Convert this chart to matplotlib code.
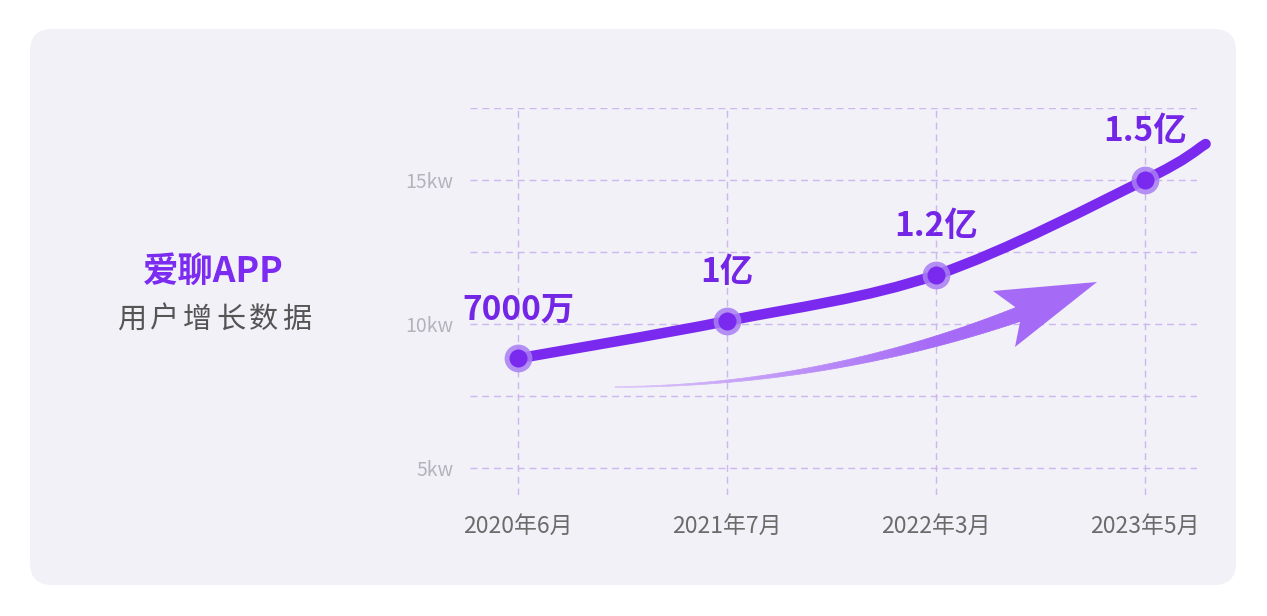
import numpy as np
import matplotlib.pyplot as plt
from matplotlib.path import Path
from matplotlib.patches import PathPatch, FancyBboxPatch, Polygon
from matplotlib.collections import PolyCollection
from matplotlib.transforms import Affine2D, IdentityTransform
from matplotlib.colors import to_rgb

plt.rcParams['font.family'] = ['Noto Sans CJK SC', 'DejaVu Sans']

months = ['2020年6月', '2021年7月', '2022年3月', '2023年5月']
users = [8.8, 10.1, 11.7, 15.0]
user_labels = ['7000万', '1亿', '1.2亿', '1.5亿']
trend_end = (3.29, 16.25)   # line runs on a bit past the last point
y_ticks = [5, 10, 15]
y_tick_labels = ['5kw', '10kw', '15kw']
y_minor = [7.5, 12.5, 17.5]

PURPLE = '#7a2aee'
HALO = '#a97ef3'
LABEL = '#7426e6'
GRID = '#cdb8ee'
PANEL = '#f2f1f8'

W, H = 1267, 616
fig = plt.figure(figsize=(W / 100, H / 100), dpi=100)
fig.patch.set_facecolor('white')
px = Affine2D().scale(1, -1).translate(0, H)   # image pixels (y down) -> display

# rounded background card
fig.add_artist(FancyBboxPatch((30, 31), 1206, 556, boxstyle='round,pad=0,rounding_size=22',
                              transform=IdentityTransform(), fc=PANEL, ec='none', zorder=0))

# title block
fig.text(213, 272, '爱聊APP', transform=px, ha='center', va='center',
         fontsize=25.5, fontweight='heavy', color='#7b2cf0')
for i, ch in enumerate('用户增长数据'):
    fig.text(131.5 + 33 * i, 320, ch, transform=px, ha='center', va='center',
             fontsize=21, color='#555555')

# chart area
ax = fig.add_axes([470 / W, (H - 495) / H, (1197 - 470) / W, (495 - 108) / H])
ax.set_xlim(-0.2297, 3.2488)
ax.set_ylim(4.056, 17.5)
ax.patch.set_alpha(0)
for s in ax.spines.values():
    s.set_visible(False)

ax.set_xticks(range(len(months)))
ax.set_xticklabels(months, fontsize=16.5, color='#6b6b6b')
ax.set_yticks(y_ticks)
ax.set_yticklabels(y_tick_labels, fontsize=14, color='#b5b2bd')
ax.set_yticks(y_minor, minor=True)
ax.tick_params(which='both', length=0)
ax.tick_params(axis='y', pad=12)
ax.tick_params(axis='x', pad=14)
ax.grid(True, which='both', color=GRID, ls=(0, (5, 3.5)), lw=1.0)
ax.set_axisbelow(True)

# smooth line (catmull-rom through the points)
pts = np.column_stack([list(range(len(users))) + [trend_end[0]], users + [trend_end[1]]])
verts = [pts[0]]
codes = [Path.MOVETO]
for i in range(len(pts) - 1):
    p0 = pts[max(i - 1, 0)]
    p1 = pts[i]
    p2 = pts[i + 1]
    p3 = pts[min(i + 2, len(pts) - 1)]
    verts += [p1 + (p2 - p0) / 6, p2 - (p3 - p1) / 6, p2]
    codes += [Path.CURVE4] * 3
ax.add_patch(PathPatch(Path(verts, codes), fill=False, ec=PURPLE, lw=7.5,
                       capstyle='round', joinstyle='round', clip_on=False, zorder=3))

ax.scatter(range(len(users)), users, s=20 ** 2, color=HALO, alpha=0.85,
           linewidths=0, zorder=4, clip_on=False)
ax.scatter(range(len(users)), users, s=13 ** 2, color=PURPLE,
           linewidths=0, zorder=5, clip_on=False)

for i, (v, lab) in enumerate(zip(users, user_labels)):
    ax.annotate(lab, (i, v), xytext=(0, 35), textcoords='offset points',
                ha='center', va='center', fontsize=24, fontweight='heavy', color=LABEL)

# decorative gradient arrow
t = np.linspace(0, 1, 80)
p_tail = np.array([615, 387.0])
p_ctrl = np.array([825, 386.0])
p_end = np.array([1022, 313.0])
curve = ((1 - t) ** 2)[:, None] * p_tail + (2 * t * (1 - t))[:, None] * p_ctrl + (t ** 2)[:, None] * p_end
deriv = (2 * (1 - t))[:, None] * (p_ctrl - p_tail) + (2 * t)[:, None] * (p_end - p_ctrl)
nrm = np.column_stack([-deriv[:, 1], deriv[:, 0]])
nrm /= np.linalg.norm(nrm, axis=1)[:, None]
half = 0.4 + 7.0 * t ** 1.6
upper = curve + nrm * half[:, None]
lower = curve - nrm * half[:, None]
quads = [[upper[k], upper[k + 1], lower[k + 1], lower[k]] for k in range(len(t) - 1)]
c0, c1 = np.array(to_rgb('#dcc6f8')), np.array(to_rgb('#a56af6'))
cols = [c0 + (c1 - c0) * min(1, tt * 1.3) for tt in t[:-1]]
fig.add_artist(PolyCollection(quads, facecolors=cols, edgecolors=cols, linewidths=0.5,
                              transform=px, zorder=2))
fig.add_artist(Polygon([(1097, 282), (993, 291), (1022, 312), (1015, 347)], closed=True,
                       fc='#a56af6', ec='none', transform=px, zorder=2))

fig.savefig('out.png', dpi=100)
